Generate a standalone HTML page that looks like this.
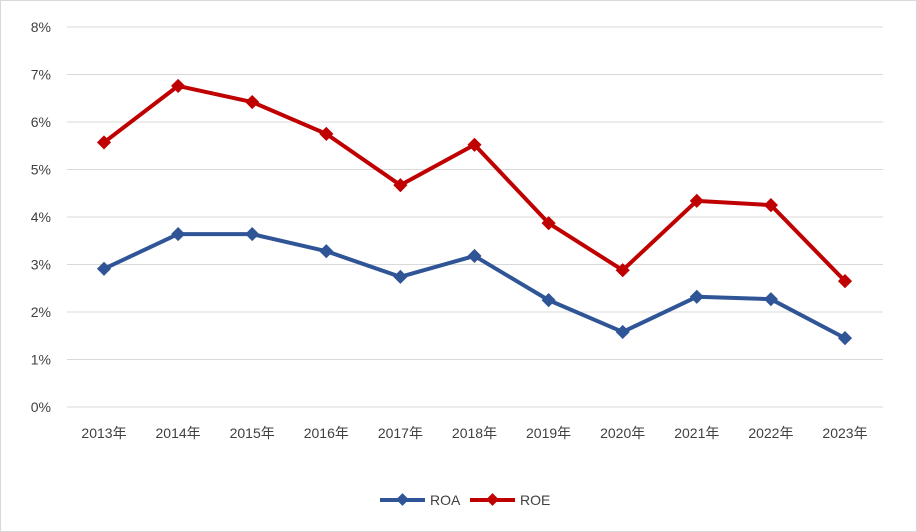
<!DOCTYPE html>
<html><head><meta charset="utf-8"><style>
html,body{margin:0;padding:0;background:#fff;}
svg{display:block;font-family:"Liberation Sans","Noto Sans CJK JP",sans-serif;}
</style></head><body>
<svg id="chart" width="917" height="532" viewBox="0 0 917 532" xmlns="http://www.w3.org/2000/svg">
<rect x="0.5" y="0.5" width="916" height="531" fill="#fff" stroke="#d9d9d9"/>
<g id="grid"></g><g id="yticks"></g><g id="xticks"></g><g id="series"></g>
<g>
<line x1="380" y1="500" x2="425" y2="500" stroke="#2f5597" stroke-width="4"/>
<rect x="398" y="495" width="9" height="9" fill="#2f5597" transform="rotate(45 402.5 499.5)"/>
<text x="430" y="505" font-size="14" fill="#404040">ROA</text>
<line x1="470" y1="500" x2="515" y2="500" stroke="#c00000" stroke-width="4"/>
<rect x="488" y="495" width="9" height="9" fill="#c00000" transform="rotate(45 492.5 499.5)"/>
<text x="520" y="505" font-size="14" fill="#404040">ROE</text>
</g>
</svg>
<script>
const categories=["2013年","2014年","2015年","2016年","2017年","2018年","2019年","2020年","2021年","2022年","2023年"];
const roaValues=[2.91,3.64,3.64,3.28,2.74,3.18,2.25,1.58,2.32,2.27,1.45];
const roeValues=[5.57,6.76,6.42,5.75,4.67,5.52,3.87,2.88,4.34,4.25,2.65];
const yTicks=[0,1,2,3,4,5,6,7,8];
const NS="http://www.w3.org/2000/svg";
const x0=104,xStep=74.1,yBase=407,yPer=47.5;
const xs=i=>x0+i*xStep, ys=v=>yBase-v*yPer;
function mk(tag,attrs,parent){const e=document.createElementNS(NS,tag);for(const k in attrs)e.setAttribute(k,attrs[k]);parent.appendChild(e);return e;}
const grid=document.getElementById('grid'),yt=document.getElementById('yticks'),xt=document.getElementById('xticks'),ser=document.getElementById('series');
yTicks.forEach(t=>{
 const l=mk('line',{x1:67,x2:883,y1:ys(t),y2:ys(t),stroke:'#d9d9d9','stroke-width':1},grid);
 
 
 const tx=mk('text',{x:51,y:ys(t)+5,'text-anchor':'end','font-size':14,fill:'#404040'},yt);
 
 
 tx.textContent=t+'%';
});
categories.forEach((c,i)=>{
 const tx=mk('text',{x:xs(i),y:438,'text-anchor':'middle','font-size':14,fill:'#404040'},xt);
 
 
 tx.textContent=c;
});
function series(vals,color,name){
 const g=mk('g',{},ser);
 
 
 const p=mk('polyline',{points:vals.map((v,i)=>xs(i)+','+ys(v)).join(' '),fill:'none',stroke:color,'stroke-width':4,'stroke-linejoin':'round'},g);
 
 
 vals.forEach((v,i)=>{
  const m=mk('rect',{x:xs(i)-5,y:ys(v)-5,width:10,height:10,fill:color,transform:`rotate(45 ${xs(i)} ${ys(v)})`},g);
  
  
 });
}
series(roaValues,'#2f5597','roa');
series(roeValues,'#c00000','roe');
</script>
</body></html>
